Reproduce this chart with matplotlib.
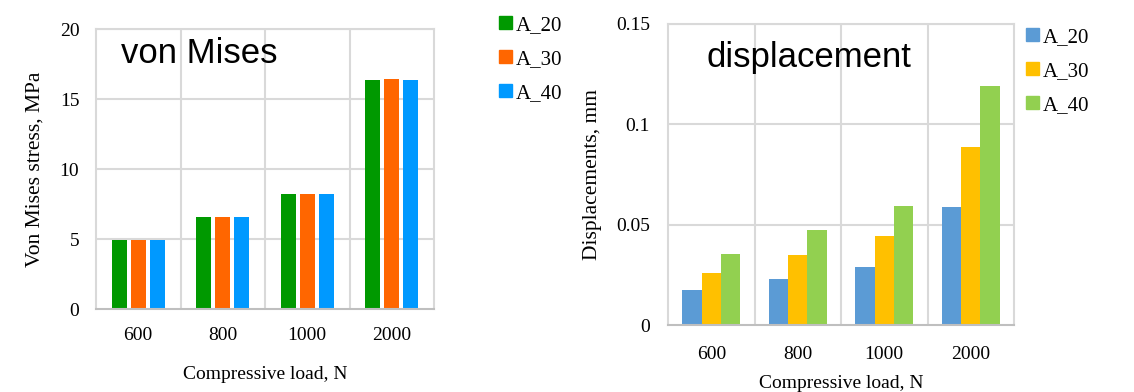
import numpy as np
import matplotlib
matplotlib.use('Agg')
import matplotlib.pyplot as plt
from matplotlib.patches import Patch

loads = ['600', '800', '1000', '2000']
series = ['A_20', 'A_30', 'A_40']

# von Mises stress, MPa
stress_a20 = [4.95, 6.55, 8.2, 16.38]
stress_a30 = [4.95, 6.6, 8.2, 16.43]
stress_a40 = [4.95, 6.55, 8.2, 16.38]

# displacement, mm
disp_a20 = [0.0173, 0.0229, 0.0291, 0.0587]
disp_a30 = [0.0259, 0.0348, 0.0442, 0.0888]
disp_a40 = [0.0354, 0.0474, 0.0592, 0.1192]

W, H = 1134, 392
plt.rcParams['font.family'] = 'Liberation Serif'
fig = plt.figure(figsize=(W/100, H/100), dpi=100)

grid_c = '#D9D9D9'


def px_axes(x0, y0, x1, y1):
    return fig.add_axes([x0/W, (H-y1)/H, (x1-x0)/W, (y1-y0)/H])


def style(ax, ymax, ystep, fmt, ypad, xpad):
    ax.set_xlim(-0.5, 3.5)
    ax.set_ylim(0, ymax)
    ticks = np.arange(0, ymax + ystep/2, ystep)
    ax.set_yticks(ticks)
    ax.set_yticklabels([fmt(t) for t in ticks])
    ax.set_xticks(range(len(loads)))
    ax.set_xticklabels(loads)
    ax.tick_params(length=0, labelsize=14)
    ax.tick_params(axis='y', pad=ypad)
    ax.tick_params(axis='x', pad=xpad)
    for t in ticks[1:]:
        ax.axhline(t, color=grid_c, lw=1.5, zorder=0)
    for b in [0.5, 1.5, 2.5]:
        ax.axvline(b, color=grid_c, lw=1.5, zorder=0)
    for s in ax.spines.values():
        s.set_color(grid_c)
        s.set_linewidth(1.5)
    ax.spines['bottom'].set_color('#BFBFBF')


x = np.arange(len(loads))

# left: von Mises
ax1 = px_axes(96, 29, 434, 309)
cols1 = ['#009900', '#FF6600', '#0099FF']
for i, vals in enumerate([stress_a20, stress_a30, stress_a40]):
    ax1.bar(x + (i-1)*0.225, vals, width=0.18, color=cols1[i], zorder=2)
style(ax1, 20, 5, lambda t: '%d' % t, 12, 13)
ax1.set_ylabel('Von Mises stress, MPa', fontsize=15.5, labelpad=11)
ax1.set_xlabel('Compressive load, N', fontsize=14, labelpad=16)
ax1.text(0.074, 0.914, 'von Mises', transform=ax1.transAxes, fontsize=25,
         family='Liberation Sans', va='center', ha='left')
fig.legend(handles=[Patch(color=c, label=s) for c, s in zip(cols1, series)],
           loc='upper left', bbox_to_anchor=(499/W, 1 - 16/H), frameon=False,
           fontsize=15, handlelength=0.6, handleheight=0.6, handletextpad=0.2,
           labelspacing=0.72, borderpad=0, borderaxespad=0)

# right: displacement
ax2 = px_axes(668, 24, 1014, 325)
cols2 = ['#5B9BD5', '#FFC000', '#92D050']
for i, vals in enumerate([disp_a20, disp_a30, disp_a40]):
    ax2.bar(x + (i-1)*0.222, vals, width=0.222, color=cols2[i], zorder=2)
style(ax2, 0.15, 0.05, lambda t: '0' if t == 0 else ('%.2f' % t).rstrip('0'), 13, 15)
ax2.set_ylabel('Displacements, mm', fontsize=15.5, labelpad=10)
ax2.set_xlabel('Compressive load, N', fontsize=14, labelpad=9)
ax2.text(0.11, 0.89, 'displacement', transform=ax2.transAxes, fontsize=25,
         family='Liberation Sans', va='center', ha='left')
fig.legend(handles=[Patch(color=c, label=s) for c, s in zip(cols2, series)],
           loc='upper left', bbox_to_anchor=(1026/W, 1 - 28/H), frameon=False,
           fontsize=15, handlelength=0.6, handleheight=0.6, handletextpad=0.2,
           labelspacing=0.72, borderpad=0, borderaxespad=0)

fig.savefig('out.png', dpi=100)
